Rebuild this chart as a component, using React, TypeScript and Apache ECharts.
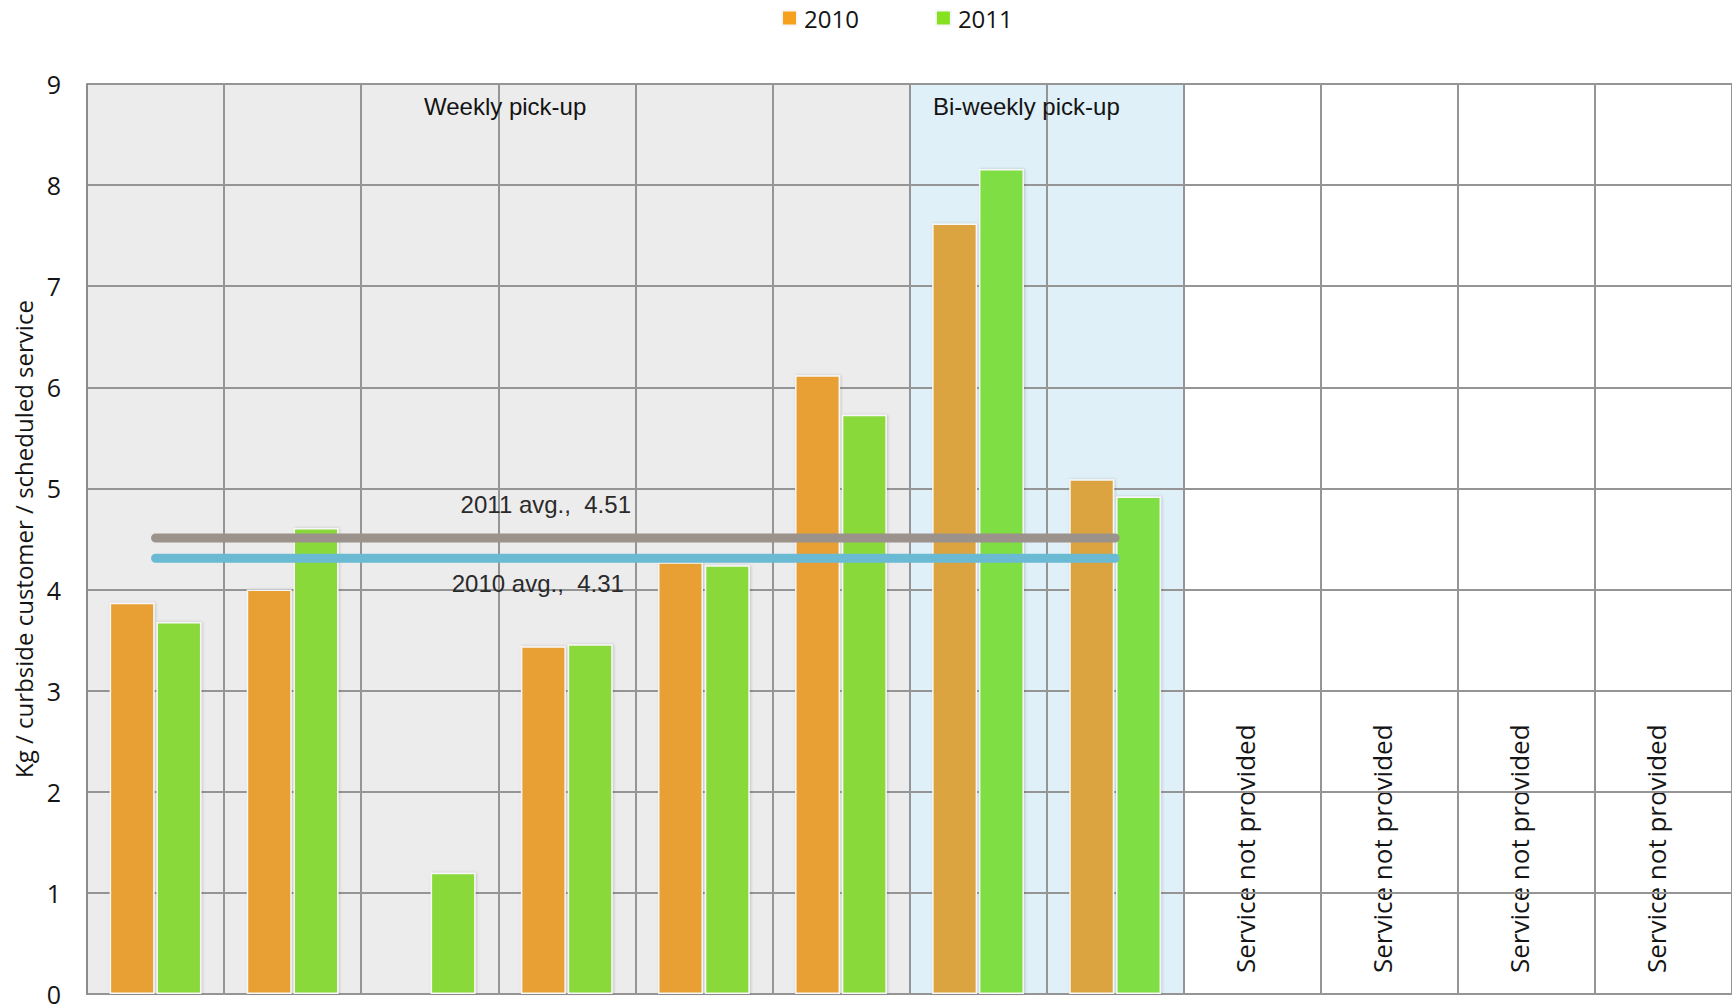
import React, { useEffect, useRef } from "react";
import * as echarts from "echarts";

// Collection areas, left to right
const categories = ["A", "B", "C", "D", "E", "F", "G", "H", "I", "J", "K", "L"];
const pickupType = [
  "weekly", "weekly", "weekly", "weekly", "weekly", "weekly",
  "biweekly", "biweekly",
  "none", "none", "none", "none",
];
const serviceNotes = [
  "", "", "", "", "", "", "", "",
  "Service not provided", "Service not provided", "Service not provided", "Service not provided",
];

// Kg / curbside customer / scheduled service
const values2010 = [3.87, 4.0, null, 3.44, 4.27, 6.12, 7.62, 5.09, null, null, null, null];
const values2011 = [3.68, 4.61, 1.2, 3.46, 4.24, 5.73, 8.16, 4.92, null, null, null, null];

const avg2010 = 4.31;
const avg2011 = 4.51;

const yTicks = { min: 0, max: 9, interval: 1 };

const regionBg: Record<string, string> = {
  weekly: "#ececec",
  biweekly: "#e0f0f8",
  none: "#ffffff",
};
const orange: Record<string, string> = { weekly: "#e8a034", biweekly: "#dca43f", none: "#e8a034" };
const green: Record<string, string> = { weekly: "#8ad93a", biweekly: "#80de45", none: "#8ad93a" };

const GRID = "#959595";
const TEXT = "#141414";
const SANS = "Open Sans";
const ARIAL = "Liberation Sans";

function barItems(values: (number | null)[], palette: Record<string, string>) {
  return values.map((v, i) => ({
    value: v == null ? "-" : v,
    itemStyle: { color: palette[pickupType[i]] },
  }));
}

function avgLine(name: string, value: number, color: string, label: any) {
  const data = categories.map((_, i) => {
    if (pickupType[i] === "none") return "-";
    if (i === 3) return { value, label: { show: true, ...label } };
    return value;
  });
  return {
    name,
    type: "line",
    data,
    z: 5,
    symbol: "circle",
    symbolSize: 0,
    showSymbol: true,
    lineStyle: { color, width: 9, cap: "round" },
    itemStyle: { color },
    label: { show: false },
  };
}

export default function App() {
  const ref = useRef<HTMLDivElement>(null);

  useEffect(() => {
    if (!ref.current) return;
    const chart = echarts.init(ref.current, undefined, { renderer: "svg" });

    const barStyle = {
      borderColor: "#f7f7f7",
      borderWidth: 1.5,
      shadowBlur: 3,
      shadowColor: "rgba(0,0,0,0.18)",
      shadowOffsetX: 1,
      shadowOffsetY: 0,
    };

    const labelFont = { fontFamily: ARIAL, fontSize: 24, color: "#2a2a2a" };

    chart.setOption({
      animation: false,
      backgroundColor: "#ffffff",
      grid: { left: 87, right: 0, top: 84, bottom: 14, containLabel: false },
      legend: {
        left: 776,
        top: 1,
        icon: "rect",
        itemWidth: 15,
        itemHeight: 15,
        itemGap: 76,
        textStyle: { fontFamily: SANS, fontSize: 24, color: TEXT, padding: [0, 0, 0, 2] },
        data: [
          { name: "2010", itemStyle: { color: "#f6a11c" } },
          { name: "2011", itemStyle: { color: "#86e120" } },
        ],
      },
      xAxis: {
        type: "category",
        data: categories,
        boundaryGap: true,
        z: 0,
        axisLine: { show: true, lineStyle: { color: "#8c8c8c", width: 2 } },
        axisTick: { show: false },
        axisLabel: {
          show: true,
          inside: true,
          rotate: 90,
          margin: 21,
          interval: 0,
          formatter: (_: string, i: number) => serviceNotes[i],
          fontFamily: SANS,
          fontSize: 26,
          lineHeight: 14,
          verticalAlign: "bottom",
          color: TEXT,
        },
        splitLine: { show: true, interval: 0, lineStyle: { color: GRID, width: 2 } },
        splitArea: {
          show: true,
          interval: 0,
          areaStyle: { color: pickupType.map((t) => regionBg[t]) },
        },
      },
      yAxis: {
        type: "value",
        min: yTicks.min,
        max: yTicks.max,
        interval: yTicks.interval,
        z: 1,
        name: "Kg / curbside customer / scheduled service",
        nameLocation: "middle",
        nameGap: 52,
        nameTextStyle: { fontFamily: SANS, fontSize: 24, color: TEXT },
        axisLine: { show: true, lineStyle: { color: "#8c8c8c", width: 2 } },
        axisTick: { show: false },
        axisLabel: { margin: 26, fontFamily: SANS, fontSize: 25, lineHeight: 14, color: TEXT },
        splitLine: { show: true, lineStyle: { color: GRID, width: 2 } },
      },
      graphic: [
        {
          type: "text",
          left: 424,
          top: 94,
          style: { text: "Weekly pick-up", font: `24px "${ARIAL}"`, fill: TEXT },
          z: 10,
        },
        {
          type: "text",
          left: 933,
          top: 94,
          style: { text: "Bi-weekly pick-up", font: `24px "${ARIAL}"`, fill: TEXT },
          z: 10,
        },
      ],
      series: [
        {
          name: "2010",
          type: "bar",
          barWidth: 45,
          barGap: "4%",
          itemStyle: barStyle,
          data: barItems(values2010, orange),
        },
        {
          name: "2011",
          type: "bar",
          barWidth: 45,
          barGap: "4%",
          itemStyle: barStyle,
          data: barItems(values2011, green),
        },
        avgLine("2011 avg.", avg2011, "#9b928b", {
          formatter: `2011 avg.,  ${avg2011.toFixed(2)}`,
          position: "top",
          distance: 21,
          offset: [-21, 0],
          ...labelFont,
        }),
        avgLine("2010 avg.", avg2010, "#6bbad4", {
          formatter: `2010 avg.,  ${avg2010.toFixed(2)}`,
          position: "bottom",
          distance: 13,
          offset: [-29, 0],
          ...labelFont,
        }),
      ],
    });

    return () => chart.dispose();
  }, []);

  return (
    <div
      ref={ref}
      style={{ position: "absolute", left: 0, top: 0, width: 1732, height: 1008 }}
    />
  );
}
